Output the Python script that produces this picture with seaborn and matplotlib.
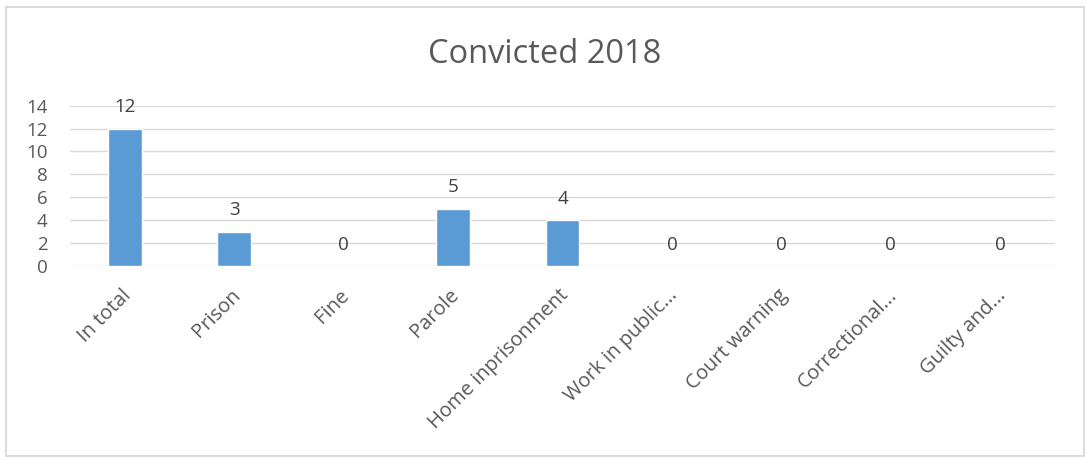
import matplotlib
matplotlib.use("Agg")
import matplotlib.pyplot as plt
import matplotlib.transforms as mtransforms
import seaborn as sns
import pandas as pd
from matplotlib.patches import Rectangle

categories = ["In total", "Prison", "Fine", "Parole", "Home inprisonment",
              "Work in public...", "Court warning", "Correctional...", "Guilty and..."]
values = [12, 3, 0, 5, 4, 0, 0, 0, 0]
y_ticks = [0, 2, 4, 6, 8, 10, 12, 14]
title = "Convicted 2018"

sns.set_theme(style="white")
plt.rcParams["font.family"] = ["Open Sans", "DejaVu Sans"]

TEXT = "#595959"
BAR = "#5b9bd5"
GRID = "#d9d9d9"
FS = 13.5
FS_X = 14.5

df = pd.DataFrame({"category": categories, "value": values})

W, H = 1085, 457
fig = plt.figure(figsize=(W / 100, H / 100), dpi=100)
ax = fig.add_axes([70 / W, 1 - 266 / H, (1055 - 70) / W, (266 - 105.7) / H])

sns.barplot(data=df, x="category", y="value", color=BAR, width=0.31,
            saturation=1, ax=ax, zorder=3)

ax.set_ylim(0, 14)
ax.set_yticks(y_ticks)
ax.set_xlim(-0.5, len(categories) - 0.5)
ax.grid(axis="y", color=GRID, linewidth=1.0, zorder=0)
ax.set_axisbelow(True)
for s in ax.spines.values():
    s.set_visible(False)
ax.set_xlabel("")
ax.set_ylabel("")
ax.tick_params(axis="both", length=0, colors=TEXT, labelsize=FS)
ax.tick_params(axis="y", pad=16)
ax.tick_params(axis="x", pad=14)
ax.set_xticks(range(len(categories)))
ax.set_xticklabels(categories, rotation=45, ha="right", va="top",
                   rotation_mode="anchor", color=TEXT, fontsize=FS_X)
shift = mtransforms.ScaledTranslation(-0.04, 0, fig.dpi_scale_trans)
for lbl in ax.get_xticklabels():
    lbl.set_transform(lbl.get_transform() + shift)

# value labels above each bar
for i, v in enumerate(values):
    ax.annotate(str(v), xy=(i, v), xytext=(0, 9), textcoords="offset points",
                ha="center", va="bottom", color="#404040", fontsize=FS)

fig.text(544.5 / W, 1 - 63 / H, title, ha="center", va="baseline",
         color=TEXT, fontsize=23.5)

# chart border
fig.patches.append(Rectangle((5.5 / W, 1 - 456 / H), (1083.5 - 5.5) / W, (456 - 6.5) / H,
                             transform=fig.transFigure, fill=False,
                             edgecolor=GRID, linewidth=1.3))

fig.savefig("out.png", dpi=100, facecolor="white")
